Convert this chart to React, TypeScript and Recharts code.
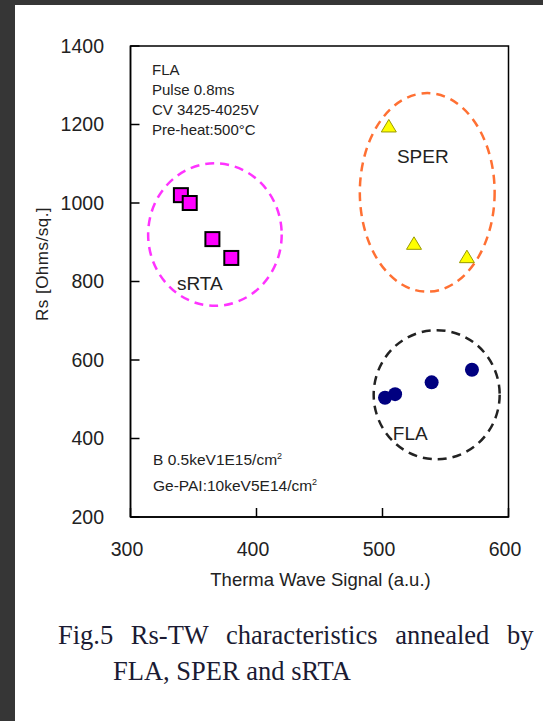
import {
  ScatterChart,
  Scatter,
  XAxis,
  YAxis,
  ReferenceArea,
  ReferenceDot,
} from "recharts";

const X_TICKS = [300, 400, 500, 600];
const Y_TICKS = [200, 400, 600, 800, 1000, 1200, 1400];

// sRTA (squares)
const srtaX = [340, 347, 365, 380];
const srtaY = [1020, 1000, 908, 860];
// SPER (triangles)
const sperX = [505, 525, 567];
const sperY = [1195, 896, 862];
// FLA (circles)
const flaX = [502, 510, 539, 571];
const flaY = [504, 513, 543, 575];

// dashed group outlines, data units
const groupNames = ["sRTA", "SPER", "FLA"];
const groupX1 = [314, 482, 493];
const groupX2 = [420, 589, 593];
const groupY1 = [738, 774, 347];
const groupY2 = [1101, 1280, 676];
const groupColors = ["#ff33ff", "#ff7033", "#222222"];
const groupLabelX = [355, 532, 522];
const groupLabelY = [795, 1118, 413];

const toPoints = (xs: number[], ys: number[]) =>
  xs.map((x, i) => ({ x, y: ys[i] }));

const srta = toPoints(srtaX, srtaY);
const sper = toPoints(sperX, sperY);
const fla = toPoints(flaX, flaY);

const SANS = '"Liberation Sans", Arial, sans-serif';
const SERIF = '"Liberation Serif", "Times New Roman", serif';

const Square = (p: any) => (
  <rect
    x={p.cx - 7}
    y={p.cy - 7}
    width={14}
    height={14}
    fill="#ff00ff"
    stroke="#000"
    strokeWidth={2}
  />
);

const Triangle = (p: any) => (
  <polygon
    points={`${p.cx},${p.cy - 7} ${p.cx - 7.5},${p.cy + 5.5} ${p.cx + 7.5},${p.cy + 5.5}`}
    fill="#ffff00"
    stroke="#9a9a00"
    strokeWidth={1}
  />
);

const Dot = (p: any) => <circle cx={p.cx} cy={p.cy} r={7} fill="#000080" />;

const ellipseShape = (color: string) => (p: any) => (
  <ellipse
    cx={p.x + p.width / 2}
    cy={p.y + p.height / 2}
    rx={p.width / 2}
    ry={p.height / 2}
    fill="none"
    stroke={color}
    strokeWidth={2.5}
    strokeDasharray="9 6"
  />
);

const tickStyle = { fill: "#222", fontSize: 19.5, fontFamily: SANS };

export default function App() {
  return (
    <div
      style={{
        position: "absolute",
        left: 0,
        top: 0,
        width: 543,
        height: 721,
        background: "#363636",
        overflow: "hidden",
      }}
    >
      <div
        style={{
          position: "absolute",
          left: 15,
          top: 5,
          width: 528,
          height: 716,
          background: "#fff",
        }}
      />
      <div style={{ position: "absolute", left: 0, top: 0 }}>
        <ScatterChart
          width={543}
          height={721}
          margin={{ top: 46, right: 34.5, left: 50.5, bottom: 124 }}
        >
          <XAxis
            type="number"
            dataKey="x"
            domain={[300, 600]}
            ticks={X_TICKS}
            allowDataOverflow
            height={80}
            axisLine={{ stroke: "#000", strokeWidth: 1.5 }}
            tickLine={{ stroke: "#000", strokeWidth: 1.5 }}
            tickSize={-9}
            tickMargin={34}
            tick={{ ...tickStyle, dx: -3.5 }}
            label={{
              content: (p: any) => (
                <text
                  x={p.viewBox.x + p.viewBox.width / 2 + 1}
                  y={p.viewBox.y + 69}
                  textAnchor="middle"
                  fontSize={18.5}
                  fontFamily={SANS}
                  fill="#222"
                >
                  Therma Wave Signal (a.u.)
                </text>
              ),
            }}
          />
          <YAxis
            type="number"
            dataKey="y"
            domain={[200, 1400]}
            ticks={Y_TICKS}
            allowDataOverflow
            width={80}
            axisLine={{ stroke: "#000", strokeWidth: 1.5 }}
            tickLine={{ stroke: "#000", strokeWidth: 1.5 }}
            tickSize={-9}
            tickMargin={35.5}
            tick={tickStyle}
            label={{
              content: (p: any) => {
                const cx = p.viewBox.x + p.viewBox.width / 2 - 48;
                const cy = p.viewBox.y + p.viewBox.height / 2 - 17.5;
                return (
                  <text
                    x={cx}
                    y={cy}
                    transform={`rotate(-90 ${cx} ${cy})`}
                    textAnchor="middle"
                    dominantBaseline="central"
                    fontSize={17}
                    letterSpacing={0.5}
                    fontFamily={SANS}
                    fill="#222"
                  >
                    Rs [Ohms/sq.]
                  </text>
                );
              },
            }}
          />
          <ReferenceArea
            x1={300}
            x2={600}
            y1={200}
            y2={1400}
            fill="none"
            stroke="#000"
            strokeWidth={1.5}
          />
          {groupNames.map((g, i) => (
            <ReferenceArea
              key={g}
              x1={groupX1[i]}
              x2={groupX2[i]}
              y1={groupY1[i]}
              y2={groupY2[i]}
              shape={ellipseShape(groupColors[i])}
            />
          ))}
          {groupNames.map((g, i) => (
            <ReferenceDot
              key={"lbl-" + g}
              x={groupLabelX[i]}
              y={groupLabelY[i]}
              r={1}
              fill="none"
              stroke="none"
              label={{
                value: g,
                position: "center",
                fontSize: 19,
                fontFamily: SANS,
                fill: "#222",
              }}
            />
          ))}
          <Scatter name="sRTA" data={srta} shape={Square} isAnimationActive={false} />
          <Scatter name="SPER" data={sper} shape={Triangle} isAnimationActive={false} />
          <Scatter name="FLA" data={fla} shape={Dot} isAnimationActive={false} />
        </ScatterChart>
      </div>
      <div
        style={{
          position: "absolute",
          left: 152,
          top: 60,
          fontFamily: SANS,
          fontSize: 15,
          lineHeight: "20px",
          color: "#222",
          whiteSpace: "nowrap",
        }}
      >
        <div>FLA</div>
        <div>Pulse 0.8ms</div>
        <div>CV 3425-4025V</div>
        <div>Pre-heat:500°C</div>
      </div>
      <div
        style={{
          position: "absolute",
          left: 153,
          top: 445,
          fontFamily: SANS,
          fontSize: 15.5,
          lineHeight: "22px",
          color: "#222",
          whiteSpace: "nowrap",
        }}
      >
        <div>
          B 0.5keV1E15/cm<sup style={{ fontSize: 9 }}>2</sup>
        </div>
        <div>
          Ge-PAI:10keV5E14/cm<sup style={{ fontSize: 9 }}>2</sup>
        </div>
      </div>
      <div
        style={{
          position: "absolute",
          left: 58,
          top: 617,
          fontFamily: SERIF,
          fontSize: 26.5,
          lineHeight: "36px",
          color: "#1b1b33",
          whiteSpace: "nowrap",
        }}
      >
        <div style={{ wordSpacing: 11 }}>
          Fig.5 Rs-TW characteristics annealed by
        </div>
        <div style={{ paddingLeft: 55 }}>FLA, SPER and sRTA</div>
      </div>
    </div>
  );
}
